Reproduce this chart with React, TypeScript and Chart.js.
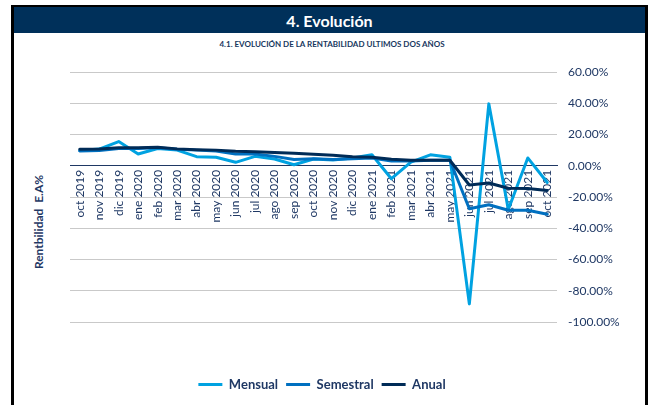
import React, { useEffect, useRef } from "react";
import { Chart, registerables } from "chart.js";

Chart.register(...registerables);

const categories = [
  "oct 2019", "nov 2019", "dic 2019", "ene 2020", "feb 2020", "mar 2020", "abr 2020",
  "may 2020", "jun 2020", "jul 2020", "ago 2020", "sep 2020", "oct 2020", "nov 2020",
  "dic 2020", "ene 2021", "feb 2021", "mar 2021", "abr 2021", "may 2021", "jun 2021",
  "jul 2021", "ago 2021", "sep 2021", "oct 2021",
];

const mensual = [9.7, 10.7, 15.5, 7.5, 11, 10, 5.8, 5.4, 2.2, 6, 4.3, 0.6, 4.3, 3.7, 5, 7, -8.3, 2.3, 7, 5.5, -88.4, 39.6, -28, 5, -10.7];
const semestral = [9.5, 9.8, 11, 11, 11.5, 10.5, 10, 9.5, 7.5, 7.5, 6, 4, 4.5, 4, 4.5, 5, 3, 3, 3.5, 3.5, -27.5, -25, -28.5, -28.5, -31];
const anual = [10.5, 10.7, 11.5, 11.5, 11.8, 10.8, 10.3, 10, 9.3, 9, 8.5, 8, 7.3, 6.7, 5.8, 5.5, 4.2, 3.5, 3.5, 3.5, -12.3, -11, -14.4, -14.5, -15.8];

const seriesNames = ["Mensual", "Semestral", "Anual"];
const seriesColors = ["#00A2E1", "#0070C0", "#002B57"];

const yMin = -100;
const yMax = 60;
const yStep = 20;

const NAVY_TEXT = "#1F3864";
const FONT = "Lato, 'Open Sans', sans-serif";

export default function App() {
  const ref = useRef<HTMLCanvasElement | null>(null);

  useEffect(() => {
    if (!ref.current) return;
    const seriesData = [mensual, semestral, anual];
    const chart = new Chart(ref.current, {
      type: "line",
      data: {
        labels: categories,
        datasets: seriesNames.map((name, i) => ({
          label: name,
          data: seriesData[i],
          borderColor: seriesColors[i],
          backgroundColor: seriesColors[i],
          borderWidth: 3,
          borderJoinStyle: "round",
          borderCapStyle: "round",
          pointRadius: 0,
          tension: 0,
          fill: false,
          order: 2 - i,
          xAxisID: "x",
          yAxisID: "y",
        })),
      },
      options: {
        responsive: false,
        animation: false,
        events: [],
        layout: { padding: { left: 0, top: 22, right: 15, bottom: 4 } },
        font: { family: FONT },
        plugins: {
          tooltip: { enabled: false },
          legend: {
            position: "bottom",
            labels: {
              font: { family: FONT, size: 13, weight: "bold" },
              color: NAVY_TEXT,
              boxWidth: 24,
              boxHeight: 3,
              padding: 8,
              generateLabels: (c: any) =>
                c.data.datasets.map((d: any, i: number) => ({
                  text: d.label,
                  fillStyle: d.borderColor,
                  strokeStyle: d.borderColor,
                  lineWidth: 0,
                  hidden: false,
                  datasetIndex: i,
                  fontColor: NAVY_TEXT,
                })),
            },
          },
        },
        scales: {
          x: {
            type: "category",
            position: { y: 0 } as any,
            offset: true,
            grid: { display: false, drawTicks: false },
            border: { display: true, color: NAVY_TEXT, width: 1 },
            ticks: {
              autoSkip: false,
              maxRotation: 90,
              minRotation: 90,
              padding: 4,
              color: NAVY_TEXT,
              font: { family: FONT, size: 12 },
            },
          },
          x2: {
            type: "category",
            position: "bottom",
            display: true,
            grid: { display: false, drawTicks: false },
            border: { display: false },
            ticks: { display: false },
            afterFit: (s: any) => {
              s.height = 48;
            },
          },
          yL: {
            type: "linear",
            position: "left",
            display: true,
            grid: { display: false, drawTicks: false },
            border: { display: false },
            ticks: { display: false },
            afterFit: (s: any) => {
              s.width = 56;
            },
          },
          y: {
            type: "linear",
            position: "right",
            min: yMin,
            max: yMax,
            grid: {
              drawTicks: false,
              color: (ctx: any) => (ctx.tick && ctx.tick.value === 0 ? NAVY_TEXT : "#C9C9C9"),
              lineWidth: 1,
            },
            border: { display: false },
            ticks: {
              stepSize: yStep,
              padding: 11,
              color: NAVY_TEXT,
              font: { family: FONT, size: 12 },
              callback: (v: any) => Number(v).toFixed(2) + "%",
            },
            afterFit: (s: any) => {
              s.width = 73;
            },
          },
        },
      },
    });
    return () => chart.destroy();
  }, []);

  return (
    <div style={{ position: "fixed", left: 0, top: 0, width: 651, height: 405, background: "#fff", overflow: "hidden", fontFamily: FONT }}>
      <div style={{ position: "absolute", left: 11, top: 5, width: 631, height: 420, borderLeft: "3px solid #000", borderTop: "2px solid #000", borderRight: "3px solid #000" }} />
      <div style={{ position: "absolute", left: 14, top: 7, width: 631, height: 26, background: "#00305A", color: "#fff", fontWeight: 700, fontSize: 16, display: "flex", alignItems: "center", justifyContent: "center" }}>
        4. Evolución
      </div>
      <div style={{ position: "absolute", left: 14, top: 38, width: 636, textAlign: "center", color: "#17375E", fontWeight: 700, fontSize: 8, lineHeight: "12px" }}>
        4.1. EVOLUCIÓN DE LA RENTABILIDAD ULTIMOS DOS AÑOS
      </div>
      <div style={{ position: "absolute", left: 38, top: 222, transform: "translate(-50%, -50%) rotate(-90deg)", whiteSpace: "nowrap", color: NAVY_TEXT, fontWeight: 700, fontSize: 12 }}>
        Rentbilidad&nbsp; E.A%
      </div>
      <canvas ref={ref} width={631} height={355} style={{ position: "absolute", left: 14, top: 50, width: 631, height: 355 }} />
    </div>
  );
}
